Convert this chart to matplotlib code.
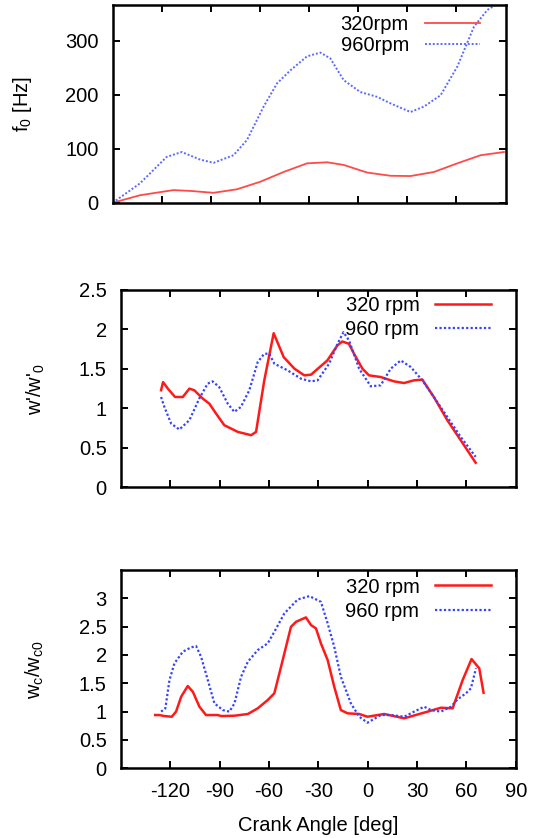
import matplotlib
matplotlib.use("Agg")
import matplotlib.pyplot as plt

# ---- data (crank angle in deg) ----
f0_320_x = [-150, -133.3, -112.9, -102.6, -88.4, -74.1, -59.8, -45.6, -31.3, -19.0,
            -8.8, 5.4, 19.7, 31.9, 46.2, 60.5, 74.7, 89.0]
f0_320_y = [0, 14, 23.5, 22, 18.5, 25, 39, 57, 73, 75, 70, 56, 50, 49.5, 57, 73, 88, 94]

f0_960_x = [-150, -133.3, -117, -107.8, -96.6, -88.4, -76.2, -68, -57.8, -49.6, -41.5,
            -31.3, -23.1, -17, -8.9, 1.3, 11.6, 19.7, 31.9, 40.1, 50.3, 60.5, 70.7,
            78.9, 85, 90]
f0_960_y = [0, 36, 85, 94, 80, 74, 88, 116, 178, 221, 245, 271, 278, 267, 227, 205,
            196, 184, 168, 178, 199, 252, 326, 357, 368, 380]

w_320_x = [-125.5, -124.3, -121.4, -117, -112.3, -108.3, -105.3, -100.2, -96.2, -92.1,
           -87.1, -78.9, -70.8, -67.8, -62.8, -57.1, -51, -44.5, -38.5, -34.4, -32.6,
           -24.5, -18.4, -15.4, -11.4, -8.3, -3.2, 0.8, 7.9, 16, 22.1, 28.1, 33.2,
           40.2, 48.4, 56.5, 65.6]
w_320_y = [1.229, 1.333, 1.25, 1.144, 1.144, 1.25, 1.229, 1.124, 1.06, 0.934, 0.787,
           0.702, 0.66, 0.702, 1.355, 1.952, 1.649, 1.503, 1.418, 1.427, 1.46, 1.607,
           1.797, 1.847, 1.818, 1.692, 1.503, 1.418, 1.397, 1.342, 1.321, 1.355,
           1.364, 1.144, 0.85, 0.597, 0.311]

w_960_x = [-125.5, -123.5, -119.4, -114.4, -108.3, -102.3, -97.2, -94.2, -90.2, -85,
           -81, -77, -71.9, -66.8, -62.8, -59.8, -56.7, -48.6, -40.5, -34.4, -30.4,
           -23.4, -18.3, -14.7, -11.3, -5.2, 1.9, 7.9, 14, 20.1, 26.2, 33.2, 40.2,
           48.4, 56.5, 65.6]
w_960_y = [1.144, 1.018, 0.808, 0.732, 0.85, 1.124, 1.313, 1.342, 1.27, 1.06, 0.955,
           1.018, 1.229, 1.586, 1.692, 1.692, 1.566, 1.481, 1.376, 1.342, 1.355,
           1.566, 1.818, 1.965, 1.86, 1.503, 1.279, 1.292, 1.503, 1.607, 1.523,
           1.355, 1.144, 0.891, 0.639, 0.386]

wc_320_x = [-129.1, -126.5, -123.5, -119, -116.4, -113.3, -109.3, -106.2, -102.2,
            -98.2, -91.1, -89, -80.9, -72.8, -66.8, -60.7, -56.7, -51.6, -46.6, -43.5,
            -37.5, -34.4, -31.4, -28.4, -24.3, -20.3, -16.3, -12.2, -5.1, -0.1, 10,
            22.2, 36.4, 44.5, 51.6, 57.7, 63.1, 67.8, 70.4]
wc_320_y = [0.94, 0.94, 0.922, 0.91, 1.0, 1.263, 1.452, 1.351, 1.087, 0.94, 0.94,
            0.922, 0.928, 0.958, 1.058, 1.205, 1.323, 1.91, 2.497, 2.586, 2.663,
            2.527, 2.469, 2.205, 1.91, 1.439, 1.028, 0.97, 0.958, 0.91, 0.958, 0.882,
            1.0, 1.069, 1.058, 1.557, 1.928, 1.764, 1.333]

wc_960_x = [-125.5, -122.9, -120.4, -117.4, -112.3, -107.3, -104.2, -101.2, -97.1,
            -93.1, -88, -84, -80.9, -76.9, -72.8, -66.8, -60.7, -56.7, -50.6, -42.5,
            -35.4, -28.4, -24.3, -20.3, -16.3, -10.2, -5.1, -0.1, 8, 14.1, 22.2, 28.2,
            34.3, 38.4, 44.5, 50.6, 54.6, 59.7, 62.7, 65.8]
wc_960_y = [1.0, 1.058, 1.557, 1.852, 2.057, 2.134, 2.157, 1.968, 1.557, 1.146, 1.028,
            1.0, 1.146, 1.616, 1.88, 2.086, 2.205, 2.409, 2.734, 2.98, 3.039, 2.938,
            2.557, 2.145, 1.616, 1.146, 0.91, 0.805, 0.94, 0.94, 0.91, 1.0, 1.087,
            1.028, 1.0, 1.087, 1.217, 1.323, 1.411, 1.764]

x_ticks = [-120, -90, -60, -30, 0, 30, 60, 90]

RED = "#ff1a1a"
BLUE = "#3344ff"
FS = 14.5

plt.rcParams.update({
    "font.family": ["Liberation Sans", "DejaVu Sans"],
    "font.size": FS,
    "mathtext.default": "regular",
    "axes.unicode_minus": False,
    "axes.linewidth": 1.8,
    "xtick.direction": "in",
    "ytick.direction": "in",
    "xtick.major.size": 5,
    "ytick.major.size": 5,
    "xtick.major.width": 1.4,
    "ytick.major.width": 1.4,
    "xtick.major.pad": 10,
    "ytick.major.pad": 10,
})

fig = plt.figure(figsize=(5.39, 8.38), dpi=100)
ax1 = fig.add_axes([0.209, 0.758, 0.729, 0.236])
ax2 = fig.add_axes([0.224, 0.4185, 0.733, 0.2355])
ax3 = fig.add_axes([0.224, 0.0832, 0.733, 0.2366])


def add_legend(ax, anchor, spacing):
    ax.legend(loc="upper right", bbox_to_anchor=anchor, frameon=False,
              markerfirst=False, handlelength=2.77, handletextpad=0.78,
              labelspacing=spacing, borderpad=0, borderaxespad=0, fontsize=FS)


# top: f0
ax1.plot(f0_320_x, f0_320_y, color="#ff4a4a", lw=1.3, label="320rpm")
ax1.plot(f0_960_x, f0_960_y, color="#5a6aff", lw=1.4, ls=(0, (1, 1)), label="960rpm")
ax1.set_xlim(-150, 90)
ax1.set_ylim(0, 366)
ax1.set_xticks(x_ticks[:-1])
ax1.set_xticklabels([])
ax1.set_yticks([0, 100, 200, 300])
ax1.set_ylabel("f$_0$ [Hz]")
ax1.yaxis.set_label_coords(-0.2, 0.5)
add_legend(ax1, (0.936, 0.95), 0.1)

# middle: w'/w'0
ax2.plot(w_320_x, w_320_y, color=RED, lw=1.8, label="320 rpm")
ax2.plot(w_960_x, w_960_y, color=BLUE, lw=1.6, ls=(0, (1, 1)), label="960 rpm")
ax2.set_xlim(-150, 90)
ax2.set_ylim(0, 2.5)
ax2.set_xticks(x_ticks[:-1])
ax2.set_xticklabels([])
ax2.set_yticks([0, 0.5, 1, 1.5, 2, 2.5])
ax2.set_yticklabels(["0", "0.5", "1", "1.5", "2", "2.5"])
ax2.set_ylabel("w'/w'$_0$")
ax2.yaxis.set_label_coords(-0.186, 0.5)
add_legend(ax2, (0.937, 0.967), 0.25)

# bottom: wc/wc0
ax3.plot(wc_320_x, wc_320_y, color=RED, lw=1.8, label="320 rpm")
ax3.plot(wc_960_x, wc_960_y, color=BLUE, lw=1.6, ls=(0, (1, 1)), label="960 rpm")
ax3.set_xlim(-150, 90)
ax3.set_ylim(0, 3.5)
ax3.set_xticks(x_ticks)
ax3.set_yticks([0, 0.5, 1, 1.5, 2, 2.5, 3])
ax3.set_yticklabels(["0", "0.5", "1", "1.5", "2", "2.5", "3"])
ax3.set_ylabel("w$_c$/w$_{c0}$")
ax3.yaxis.set_label_coords(-0.19, 0.5)
ax3.set_xlabel("Crank Angle [deg]", labelpad=11)
add_legend(ax3, (0.937, 0.962), 0.25)

for ax in (ax1, ax2, ax3):
    ax.tick_params(top=True, right=True)

fig.savefig("out.png", dpi=100)
